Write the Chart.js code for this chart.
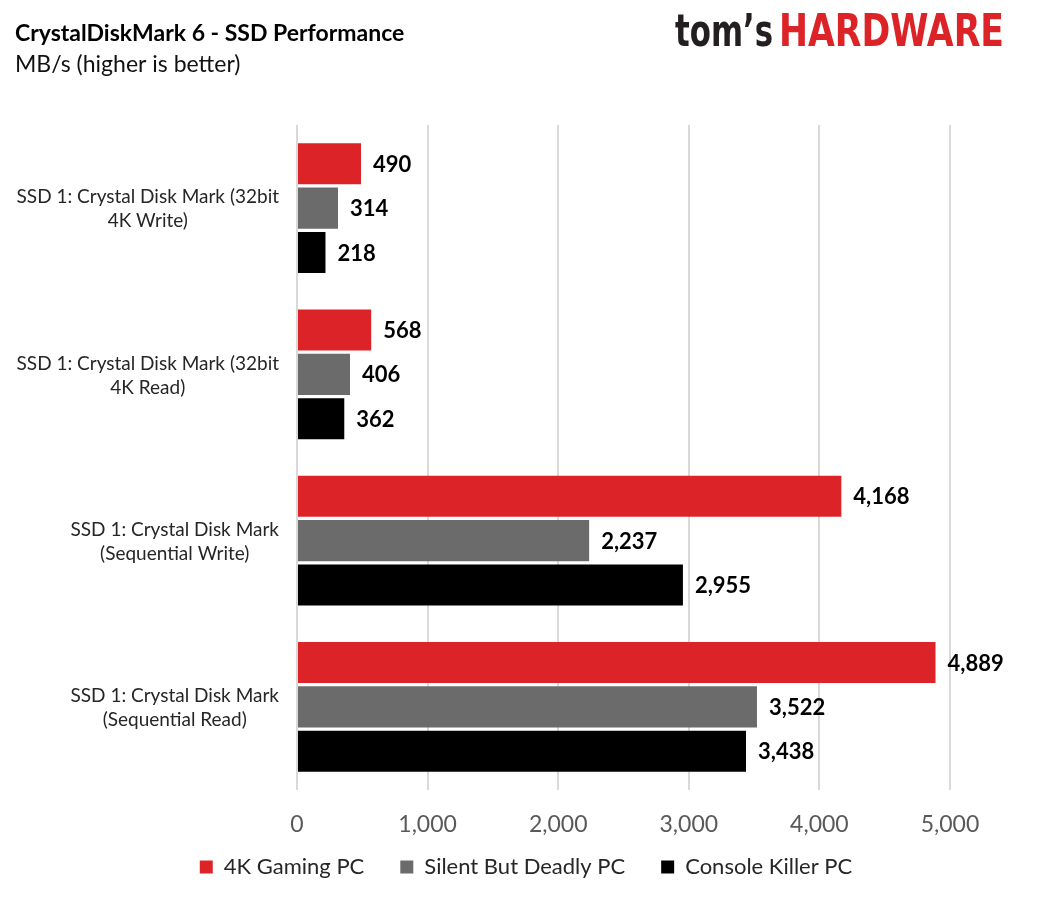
<!DOCTYPE html>
<html>
<head>
<meta charset="utf-8">
<script src="https://cdn.jsdelivr.net/npm/chart.js@4"></script>
<style>
html,body{margin:0;padding:0;background:#fff;}
#wrap{width:1044px;height:903px;position:relative;}
</style>
</head>
<body>
<div id="wrap"><canvas id="c" width="1044" height="903"></canvas></div>
<script>
const categories = [
  ["SSD 1: Crystal Disk Mark (32bit", "4K Write)"],
  ["SSD 1: Crystal Disk Mark (32bit", "4K Read)"],
  ["SSD 1: Crystal Disk Mark", "(Sequential Write)"],
  ["SSD 1: Crystal Disk Mark", "(Sequential Read)"]
];
const seriesNames = ["4K Gaming PC", "Silent But Deadly PC", "Console Killer PC"];
const gaming4k = [490, 568, 4168, 4889];
const silent = [314, 406, 2237, 3522];
const consoleKiller = [218, 362, 2955, 3438];
const seriesColors = ["#DC2428", "#6B6B6B", "#000000"];
const xTicks = [0, 1000, 2000, 3000, 4000, 5000];
const titleText = "CrystalDiskMark 6 - SSD Performance";
const subtitleText = "MB/s (higher is better)";

const FONT = "Lato, 'Open Sans', sans-serif";
const fmt = v => v.toLocaleString('en-US');

const overlay = {
  id: 'overlay',
  afterDatasetsDraw(chart) {
    const ctx = chart.ctx;
    ctx.save();
    ctx.font = "bold 22px " + FONT;
    ctx.fillStyle = "#000";
    ctx.textAlign = "left";
    ctx.textBaseline = "middle";
    chart.data.datasets.forEach((ds, di) => {
      chart.getDatasetMeta(di).data.forEach((bar, i) => {
        ctx.fillText(fmt(ds.data[i]), bar.x + 12, bar.y + 1);
      });
    });
    ctx.restore();
  },
  afterDraw(chart) {
    const ctx = chart.ctx;
    ctx.save();
    // y category labels: each block right aligned, lines centred within block
    const ys = chart.scales.y;
    ctx.font = "19px " + FONT;
    ctx.fillStyle = "#262626";
    ctx.textAlign = "center";
    ctx.textBaseline = "middle";
    const right = ys.right - 18;
    categories.forEach((lines, i) => {
      const cy = ys.getPixelForTick(i);
      const w = Math.max(...lines.map(l => ctx.measureText(l).width));
      const cx = right - w / 2;
      const lh = 24;
      lines.forEach((l, k) => {
        ctx.fillText(l, cx, cy + (k - (lines.length - 1) / 2) * lh + 1);
      });
    });
    // title
    ctx.textAlign = "left";
    ctx.textBaseline = "alphabetic";
    ctx.fillStyle = "#000";
    ctx.font = "bold 23px " + FONT;
    ctx.fillText(titleText, 15, 41);
    ctx.fillStyle = "#111";
    ctx.font = "23px " + FONT;
    ctx.fillText(subtitleText, 15, 72);
    // logo
    const lf = "bold 44px 'DejaVu Sans Condensed', 'DejaVu Sans', sans-serif";
    ctx.font = lf;
    const drawFit = (txt, x0, x1, color) => {
      const w = ctx.measureText(txt).width;
      ctx.save();
      ctx.translate(x0, 46);
      ctx.scale((x1 - x0) / w, 1);
      ctx.fillStyle = color;
      ctx.fillText(txt, 0, 0);
      ctx.restore();
    };
    drawFit("tom\u2019s", 675, 773, "#231F20");
    drawFit("HARDWARE", 779, 1004, "#DC2428");
    ctx.restore();
  }
};

new Chart(document.getElementById('c'), {
  type: 'bar',
  data: {
    labels: categories,
    datasets: [
      { label: seriesNames[0], data: gaming4k, backgroundColor: seriesColors[0] },
      { label: seriesNames[1], data: silent, backgroundColor: seriesColors[1] },
      { label: seriesNames[2], data: consoleKiller, backgroundColor: seriesColors[2] }
    ]
  },
  options: {
    indexAxis: 'y',
    responsive: false,
    animation: false,
    devicePixelRatio: 1,
    categoryPercentage: 0.8,
    barPercentage: 0.925,
    layout: { padding: { top: 125, right: 94, bottom: 15, left: 102 } },
    scales: {
      x: {
        min: 0, max: 5000,
        afterBuildTicks(scale) { scale.ticks = xTicks.map(v => ({ value: v })); },
        grid: { color: '#D9D9D9', lineWidth: 2, drawTicks: false },
        border: { display: false },
        ticks: {
          padding: 21,
          color: '#595959',
          font: { family: FONT, size: 23 },
          callback: v => fmt(v)
        },
        afterFit(scale) {
          scale.height = 30;
          scale._computeLabelArea = () => undefined;
        }
      },
      y: {
        grid: { display: false },
        border: { display: false },
        ticks: { color: 'rgba(0,0,0,0)', font: { family: FONT, size: 10 } },
        afterFit(scale) { scale.width = 195; }
      }
    },
    plugins: {
      legend: {
        position: 'bottom',
        labels: {
          boxWidth: 13, boxHeight: 13,
          padding: 36,
          color: '#262626',
          font: { family: FONT, size: 22 }
        }
      },
      tooltip: { enabled: false }
    }
  },
  plugins: [overlay]
});
</script>
</body>
</html>
